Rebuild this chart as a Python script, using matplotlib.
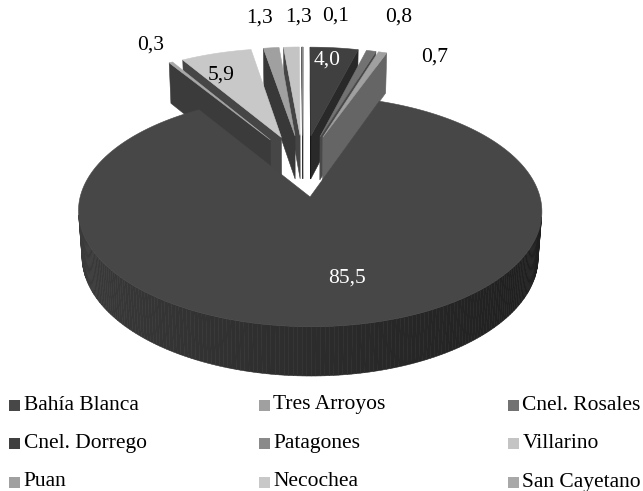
import glob
import numpy as np
import matplotlib.pyplot as plt
import matplotlib.font_manager as fm
from matplotlib.patches import Polygon, Rectangle
from matplotlib.colors import to_rgb

# Times-like font (load the file directly in case the name is not cached)
serif = 'DejaVu Serif'
for f in (glob.glob('/usr/share/fonts/**/LiberationSerif-Regular.ttf', recursive=True)
          + glob.glob('/usr/local/share/fonts/**/LiberationSerif-Regular.ttf', recursive=True)):
    fm.fontManager.addfont(f)
    serif = fm.FontProperties(fname=f).get_name()
    break
plt.rcParams['font.family'] = [serif, 'DejaVu Serif']

# data (share in %)
names = ['Bahía Blanca', 'Tres Arroyos', 'Cnel. Rosales',
         'Cnel. Dorrego', 'Patagones', 'Villarino',
         'Puan', 'Necochea', 'San Cayetano']
values = [85.5, 0.7, 0.8, 4.0, 0.1, 1.3, 1.3, 5.9, 0.3]
colors = ['#474747', '#a0a0a0', '#727272', '#404040', '#8a8a8a',
          '#c4c4c4', '#a0a0a0', '#c8c8c8', '#a8a8a8']

# label placement: radius in pie units + nudge in pixels
label_r = [0.6, 1.25, 1.25, 0.75, 1.25, 1.25, 1.25, 0.75, 1.25]
label_nudge = [(21, 8), (39, 23), (16, -15), (-2, -8), (33, -12),
               (9, -11), (-6, -11), (-10, 2), (2, 0)]
label_white = [True, False, False, True, False, False, False, False, False]

# fake 3d view
START = 122.04     # angle of first slice (deg, counter clockwise)
EXPLODE = 0.29
HEIGHT = 0.23
PHI = np.radians(28.5)
SP, CP = np.sin(PHI), np.cos(PHI)
DIST = 7.33
FOC = 1627.0
CX, CY = 303.0, 165.3
cam = np.array([0.0, -DIST * CP, DIST * SP])


def proj(p):
    p = np.atleast_2d(p)
    x, y, z = p[:, 0], p[:, 1], p[:, 2]
    v = y * SP + z * CP
    w = y * CP - z * SP
    s = FOC / (DIST + w)
    return np.column_stack([CX + s * x, CY - s * v])


def shade(c, f):
    return tuple(min(1, max(0, ch * f)) for ch in to_rgb(c))


fig = plt.figure(figsize=(6.43, 4.91), dpi=100)
ax = fig.add_axes([0, 0, 1, 1])
ax.set_xlim(0, 643)
ax.set_ylim(491, 0)
ax.axis('off')

total = sum(values)
angles = START + 360 * np.concatenate([[0], np.cumsum(values)]) / total

slices = []
for i in range(len(values)):
    a0, a1 = np.radians(angles[i]), np.radians(angles[i + 1])
    mid = (a0 + a1) / 2
    off = EXPLODE * np.array([np.cos(mid), np.sin(mid), 0.0])
    cen = off + 0.5 * np.array([np.cos(mid), np.sin(mid), 0.0])
    depth = np.linalg.norm(cam - cen)
    faces = []
    down = np.array([0, 0, -HEIGHT])

    # outer wall
    n = max(2, int(np.degrees(a1 - a0)))
    th = np.linspace(a0, a1, n + 1)
    for t0, t1 in zip(th[:-1], th[1:]):
        tm = (t0 + t1) / 2
        p0 = off + [np.cos(t0), np.sin(t0), 0]
        p1 = off + [np.cos(t1), np.sin(t1), 0]
        pm = off + [np.cos(tm), np.sin(tm), 0]
        nrm = np.array([np.cos(tm), np.sin(tm), 0])
        if nrm @ (cam - pm) > 0:
            quad = proj(np.array([p0, p1, p1 + down, p0 + down]))
            faces.append((quad, shade(colors[i], 0.62 - 0.2 * np.cos(tm))))

    # cut faces
    for a, nrm in [(a0, np.array([np.sin(a0), -np.cos(a0), 0])),
                   (a1, np.array([-np.sin(a1), np.cos(a1), 0]))]:
        if nrm @ (cam - off) > 0:
            rim = off + [np.cos(a), np.sin(a), 0]
            quad = proj(np.array([off, rim, rim + down, off + down]))
            f = 0.35 + 0.3 * max(0, nrm[0])
            faces.append((quad, shade(colors[i], f)))

    # top face
    th = np.linspace(a0, a1, max(3, int(np.degrees(a1 - a0) * 2)))
    pts = [off] + [off + [np.cos(t), np.sin(t), 0] for t in th]
    faces.append((proj(np.array(pts)), colors[i]))
    slices.append((depth, faces))

for depth, faces in sorted(slices, key=lambda s: -s[0]):
    for poly, col in faces:
        ax.add_patch(Polygon(poly, closed=True, facecolor=col,
                             edgecolor=col, linewidth=0.4))

# data labels
for i, v in enumerate(values):
    mid = np.radians((angles[i] + angles[i + 1]) / 2)
    d = np.array([np.cos(mid), np.sin(mid), 0.0])
    p = proj((EXPLODE + label_r[i]) * d)[0]
    dx, dy = label_nudge[i]
    ax.text(p[0] + dx, p[1] + dy, f'{v:.1f}'.replace('.', ','),
            ha='center', va='center', fontsize=15.5,
            color='white' if label_white[i] else 'black')

# legend, 3 per row
for i, name in enumerate(names):
    row, col = divmod(i, 3)
    x = 9 + col * 249.5
    y = 405 + row * 38.5
    ax.add_patch(Rectangle((x, y - 5.5), 11, 11, facecolor=colors[i],
                           edgecolor='none'))
    ax.text(x + 14.5, y, name, ha='left', va='center', fontsize=15.5)

fig.savefig('out.png', dpi=100)
